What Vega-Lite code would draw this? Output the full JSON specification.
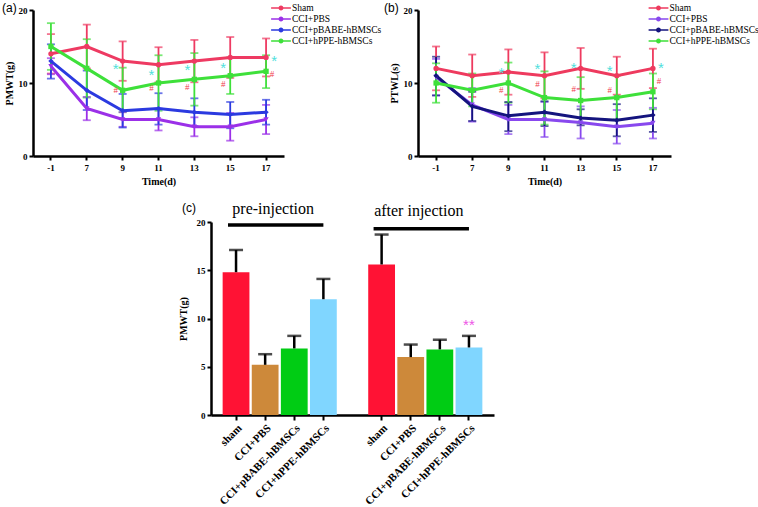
{
  "$schema": "https://vega.github.io/schema/vega-lite/v6.json",
  "padding": {"left": 2, "top": 1, "right": 0, "bottom": 0},
  "background": "white",
  "config": {
    "view": {"stroke": null},
    "axis": {
      "grid": false,
      "domainColor": "black", "domainWidth": 2.5,
      "tickColor": "black", "tickWidth": 2, "tickSize": 4,
      "labelFont": "Liberation Serif", "labelFontWeight": "bold", "labelFontSize": 9, "labelColor": "black",
      "titleFont": "Liberation Serif", "titleFontWeight": "bold", "titleFontSize": 10, "titleColor": "black"
    },
    "legend": {"labelFont": "Liberation Serif", "labelFontSize": 9.5, "labelColor": "black"},
    "title": {"font": "Liberation Sans", "fontSize": 12, "fontWeight": "normal", "color": "black"}
  },
  "datasets": {
    "pmwt": [
      {"time": -1, "group": "Sham", "mean": 14, "lo": 11.3, "hi": 16.7},
      {"time": 7, "group": "Sham", "mean": 15, "lo": 12, "hi": 18},
      {"time": 9, "group": "Sham", "mean": 13, "lo": 10.3, "hi": 15.7},
      {"time": 11, "group": "Sham", "mean": 12.5, "lo": 10.1, "hi": 14.9},
      {"time": 13, "group": "Sham", "mean": 13, "lo": 10.1, "hi": 15.9},
      {"time": 15, "group": "Sham", "mean": 13.5, "lo": 10.7, "hi": 16.3},
      {"time": 17, "group": "Sham", "mean": 13.5, "lo": 10.9, "hi": 16.1},
      {"time": -1, "group": "CCI+PBS", "mean": 12.3, "lo": 11.2, "hi": 13.4},
      {"time": 7, "group": "CCI+PBS", "mean": 6.5, "lo": 4.9, "hi": 8.1},
      {"time": 9, "group": "CCI+PBS", "mean": 5, "lo": 4, "hi": 6},
      {"time": 11, "group": "CCI+PBS", "mean": 5, "lo": 3.5, "hi": 6.5},
      {"time": 13, "group": "CCI+PBS", "mean": 4, "lo": 2.7, "hi": 5.3},
      {"time": 15, "group": "CCI+PBS", "mean": 4, "lo": 2.1, "hi": 5.9},
      {"time": 17, "group": "CCI+PBS", "mean": 5, "lo": 3, "hi": 7},
      {"time": -1, "group": "CCI+pBABE-hBMSCs", "mean": 13, "lo": 10.6, "hi": 15.3},
      {"time": 7, "group": "CCI+pBABE-hBMSCs", "mean": 9, "lo": 6.3, "hi": 11.7},
      {"time": 9, "group": "CCI+pBABE-hBMSCs", "mean": 6.2, "lo": 3.9, "hi": 8.5},
      {"time": 11, "group": "CCI+pBABE-hBMSCs", "mean": 6.5, "lo": 4.3, "hi": 8.6},
      {"time": 13, "group": "CCI+pBABE-hBMSCs", "mean": 6, "lo": 4.1, "hi": 7.9},
      {"time": 15, "group": "CCI+pBABE-hBMSCs", "mean": 5.7, "lo": 3.8, "hi": 7.4},
      {"time": 17, "group": "CCI+pBABE-hBMSCs", "mean": 6, "lo": 4.3, "hi": 7.7},
      {"time": -1, "group": "CCI+hPPE-hBMSCs", "mean": 15, "lo": 11.8, "hi": 18.2},
      {"time": 7, "group": "CCI+hPPE-hBMSCs", "mean": 12, "lo": 8, "hi": 16},
      {"time": 9, "group": "CCI+hPPE-hBMSCs", "mean": 9, "lo": 6, "hi": 12.1},
      {"time": 11, "group": "CCI+hPPE-hBMSCs", "mean": 10, "lo": 6.2, "hi": 13.8},
      {"time": 13, "group": "CCI+hPPE-hBMSCs", "mean": 10.5, "lo": 6.9, "hi": 14.1},
      {"time": 15, "group": "CCI+hPPE-hBMSCs", "mean": 11, "lo": 8.5, "hi": 13.5},
      {"time": 17, "group": "CCI+hPPE-hBMSCs", "mean": 11.6, "lo": 9.3, "hi": 13.8}
    ],
    "ptwl": [
      {"time": -1, "group": "Sham", "mean": 12, "lo": 9, "hi": 15},
      {"time": 7, "group": "Sham", "mean": 11, "lo": 8.1, "hi": 13.9},
      {"time": 9, "group": "Sham", "mean": 11.5, "lo": 8.4, "hi": 14.6},
      {"time": 11, "group": "Sham", "mean": 11, "lo": 7.9, "hi": 14.2},
      {"time": 13, "group": "Sham", "mean": 12, "lo": 9.2, "hi": 14.8},
      {"time": 15, "group": "Sham", "mean": 11, "lo": 8.4, "hi": 13.6},
      {"time": 17, "group": "Sham", "mean": 12, "lo": 9.3, "hi": 14.7},
      {"time": -1, "group": "CCI+PBS", "mean": 10.8, "lo": 8.3, "hi": 13.3},
      {"time": 7, "group": "CCI+PBS", "mean": 7, "lo": 4.7, "hi": 9.3},
      {"time": 9, "group": "CCI+PBS", "mean": 5, "lo": 3, "hi": 7},
      {"time": 11, "group": "CCI+PBS", "mean": 5, "lo": 2.6, "hi": 7.4},
      {"time": 13, "group": "CCI+PBS", "mean": 4.6, "lo": 2.4, "hi": 6.8},
      {"time": 15, "group": "CCI+PBS", "mean": 4, "lo": 1.7, "hi": 6.3},
      {"time": 17, "group": "CCI+PBS", "mean": 4.5, "lo": 2.4, "hi": 6.6},
      {"time": -1, "group": "CCI+pBABE-hBMSCs", "mean": 11, "lo": 8.3, "hi": 13.6},
      {"time": 7, "group": "CCI+pBABE-hBMSCs", "mean": 6.8, "lo": 4.8, "hi": 8.8},
      {"time": 9, "group": "CCI+pBABE-hBMSCs", "mean": 5.5, "lo": 3.4, "hi": 7.4},
      {"time": 11, "group": "CCI+pBABE-hBMSCs", "mean": 6, "lo": 4.1, "hi": 7.5},
      {"time": 13, "group": "CCI+pBABE-hBMSCs", "mean": 5.2, "lo": 4.2, "hi": 6.4},
      {"time": 15, "group": "CCI+pBABE-hBMSCs", "mean": 4.9, "lo": 2.7, "hi": 7.1},
      {"time": 17, "group": "CCI+pBABE-hBMSCs", "mean": 5.6, "lo": 3.3, "hi": 7.9},
      {"time": -1, "group": "CCI+hPPE-hBMSCs", "mean": 10, "lo": 7.3, "hi": 12.7},
      {"time": 7, "group": "CCI+hPPE-hBMSCs", "mean": 9, "lo": 6.8, "hi": 11.3},
      {"time": 9, "group": "CCI+hPPE-hBMSCs", "mean": 10, "lo": 7.3, "hi": 12.8},
      {"time": 11, "group": "CCI+hPPE-hBMSCs", "mean": 8, "lo": 4.3, "hi": 11.6},
      {"time": 13, "group": "CCI+hPPE-hBMSCs", "mean": 7.6, "lo": 4.5, "hi": 10.8},
      {"time": 15, "group": "CCI+hPPE-hBMSCs", "mean": 8, "lo": 5, "hi": 11},
      {"time": 17, "group": "CCI+hPPE-hBMSCs", "mean": 8.8, "lo": 6.4, "hi": 11.3}
    ],
    "annA": [
      {"time": 9, "y": 12.3, "kind": "star", "label": "*"},
      {"time": 11, "y": 11.5, "kind": "star", "label": "*"},
      {"time": 13, "y": 12.2, "kind": "star", "label": "*"},
      {"time": 15, "y": 12.4, "kind": "star", "label": "*"},
      {"time": 17, "y": 13.4, "kind": "star", "label": "*"},
      {"time": 9, "y": 9.0, "kind": "hash", "label": "#"},
      {"time": 11, "y": 9.3, "kind": "hash", "label": "#"},
      {"time": 13, "y": 9.5, "kind": "hash", "label": "#"},
      {"time": 15, "y": 9.8, "kind": "hash", "label": "#"},
      {"time": 17, "y": 11.2, "kind": "hash", "label": "#"}
    ],
    "annB": [
      {"time": 9, "y": 11.8, "kind": "star", "label": "*"},
      {"time": 11, "y": 12.3, "kind": "star", "label": "*"},
      {"time": 13, "y": 12.5, "kind": "star", "label": "*"},
      {"time": 15, "y": 12.0, "kind": "star", "label": "*"},
      {"time": 17, "y": 12.4, "kind": "star", "label": "*"},
      {"time": 9, "y": 9.0, "kind": "hash", "label": "#"},
      {"time": 11, "y": 9.9, "kind": "hash", "label": "#"},
      {"time": 13, "y": 9.2, "kind": "hash", "label": "#"},
      {"time": 15, "y": 9.0, "kind": "hash", "label": "#"},
      {"time": 17, "y": 10.3, "kind": "hash", "label": "#"}
    ],
    "bars": [
      {"key": "sham|pre", "group": "sham", "mean": 14.8, "hi": 17.1},
      {"key": "CCI+PBS|pre", "group": "CCI+PBS", "mean": 5.2, "hi": 6.3},
      {"key": "CCI+pBABE-hBMSCs|pre", "group": "CCI+pBABE-hBMSCs", "mean": 6.9, "hi": 8.2},
      {"key": "CCI+hPPE-hBMSCs|pre", "group": "CCI+hPPE-hBMSCs", "mean": 12, "hi": 14.1},
      {"key": "sham|after", "group": "sham", "mean": 15.6, "hi": 18.7},
      {"key": "CCI+PBS|after", "group": "CCI+PBS", "mean": 6, "hi": 7.3},
      {"key": "CCI+pBABE-hBMSCs|after", "group": "CCI+pBABE-hBMSCs", "mean": 6.8, "hi": 7.8},
      {"key": "CCI+hPPE-hBMSCs|after", "group": "CCI+hPPE-hBMSCs", "mean": 7, "hi": 8.2}
    ],
    "brackets": [
      {"x1": "sham|pre", "x2": "CCI+hPPE-hBMSCs|pre", "y": 19.7},
      {"x1": "sham|after", "x2": "CCI+hPPE-hBMSCs|after", "y": 19.3}
    ],
    "phaseLabels": [
      {"x": "CCI+PBS|pre", "y": 21.3, "label": "pre-injection"},
      {"x": "CCI+PBS|after", "y": 21.1, "label": "after injection"}
    ],
    "sig": [
      {"x": "CCI+hPPE-hBMSCs|after", "y": 9.6, "label": "**"}
    ]
  },
  "vconcat": [
    {
      "hconcat": [
        {
          "width": 251, "height": 146,
          "title": {"text": "(a)", "anchor": "start", "frame": "group", "dx": -31, "offset": -12},
          "data": {"name": "pmwt"},
          "encoding": {
            "x": {"field": "time", "type": "ordinal", "axis": {"title": "Time(d)", "labelAngle": 0, "labelPadding": 3, "titlePadding": 4}},
            "color": {"field": "group", "type": "nominal",
              "scale": {"domain": ["Sham", "CCI+PBS", "CCI+pBABE-hBMSCs", "CCI+hPPE-hBMSCs"], "range": ["#ee3a62", "#9b30e8", "#2b3ae0", "#3ee03a"]},
              "legend": {"title": null, "orient": "none", "legendX": 242.5, "legendY": -7.5, "symbolSize": 121, "rowPadding": 1, "labelOffset": 5.5,
                "symbolType": "M-1.8,-0.14L1.8,-0.14L1.8,0.14L-1.8,0.14ZM0.45,0A0.45,0.45 0 1,1 -0.45,0A0.45,0.45 0 1,1 0.45,0Z",
                "symbolStrokeWidth": 0, "symbolOpacity": 1}}
          },
          "layer": [
            {
              "mark": {"type": "errorbar", "thickness": 1.8, "ticks": {"size": 8, "thickness": 1.8}},
              "encoding": {
                "y": {"field": "lo", "type": "quantitative", "scale": {"domain": [0, 20]}, "axis": {"title": "PMWT(g)", "values": [0, 5, 10, 15, 20], "titlePadding": 4}},
                "y2": {"field": "hi"}
              }
            },
            {
              "mark": {"type": "line", "strokeWidth": 3},
              "encoding": {"y": {"field": "mean", "type": "quantitative"}}
            },
            {
              "transform": [{"filter": "datum.group == 'Sham'"}],
              "mark": {"type": "point", "filled": true, "size": 28, "opacity": 1, "shape": "circle"},
              "encoding": {"y": {"field": "mean", "type": "quantitative"}}
            },
            {
              "transform": [{"filter": "datum.group == 'CCI+PBS'"}],
              "mark": {"type": "point", "filled": true, "size": 28, "opacity": 1, "shape": "triangle-down"},
              "encoding": {"y": {"field": "mean", "type": "quantitative"}}
            },
            {
              "transform": [{"filter": "datum.group == 'CCI+pBABE-hBMSCs'"}],
              "mark": {"type": "point", "filled": true, "size": 28, "opacity": 1, "shape": "diamond"},
              "encoding": {"y": {"field": "mean", "type": "quantitative"}}
            },
            {
              "transform": [{"filter": "datum.group == 'CCI+hPPE-hBMSCs'"}],
              "mark": {"type": "point", "filled": true, "size": 28, "opacity": 1, "shape": "square"},
              "encoding": {"y": {"field": "mean", "type": "quantitative"}}
            },
            {
              "data": {"name": "annA"},
              "transform": [{"filter": "datum.kind == 'star' && datum.time != 17"}],
              "mark": {"type": "text", "fontSize": 15, "font": "Liberation Sans", "dx": -7, "dy": 3},
              "encoding": {"x": {"field": "time", "type": "ordinal"}, "y": {"field": "y", "type": "quantitative"}, "text": {"field": "label"}, "color": {"value": "#4fe0dc"}}
            },
            {
              "data": {"name": "annA"},
              "transform": [{"filter": "datum.kind == 'star' && datum.time == 17"}],
              "mark": {"type": "text", "fontSize": 15, "font": "Liberation Sans", "dx": 8, "dy": 3},
              "encoding": {"x": {"field": "time", "type": "ordinal"}, "y": {"field": "y", "type": "quantitative"}, "text": {"field": "label"}, "color": {"value": "#4fe0dc"}}
            },
            {
              "data": {"name": "annA"},
              "transform": [{"filter": "datum.kind == 'hash' && datum.time != 17"}],
              "mark": {"type": "text", "fontSize": 9, "font": "Liberation Serif", "dx": -7},
              "encoding": {"x": {"field": "time", "type": "ordinal"}, "y": {"field": "y", "type": "quantitative"}, "text": {"field": "label"}, "color": {"value": "#f03a4a"}}
            },
            {
              "data": {"name": "annA"},
              "transform": [{"filter": "datum.kind == 'hash' && datum.time == 17"}],
              "mark": {"type": "text", "fontSize": 9, "font": "Liberation Serif", "dx": 6},
              "encoding": {"x": {"field": "time", "type": "ordinal"}, "y": {"field": "y", "type": "quantitative"}, "text": {"field": "label"}, "color": {"value": "#f03a4a"}}
            }
          ]
        },
        {
          "width": 253, "height": 146,
          "title": {"text": "(b)", "anchor": "start", "frame": "group", "dx": -34, "offset": -12},
          "data": {"name": "ptwl"},
          "encoding": {
            "x": {"field": "time", "type": "ordinal", "axis": {"title": "Time(d)", "labelAngle": 0, "labelPadding": 3, "titlePadding": 4}},
            "color": {"field": "group", "type": "nominal",
              "scale": {"domain": ["Sham", "CCI+PBS", "CCI+pBABE-hBMSCs", "CCI+hPPE-hBMSCs"], "range": ["#ee3a5e", "#8848ee", "#14147e", "#3ee03a"]},
              "legend": {"title": null, "orient": "none", "legendX": 235, "legendY": -7.5, "symbolSize": 121, "rowPadding": 1, "labelOffset": 5.5,
                "symbolType": "M-1.8,-0.14L1.8,-0.14L1.8,0.14L-1.8,0.14ZM0.45,0A0.45,0.45 0 1,1 -0.45,0A0.45,0.45 0 1,1 0.45,0Z",
                "symbolStrokeWidth": 0, "symbolOpacity": 1}}
          },
          "layer": [
            {
              "mark": {"type": "errorbar", "thickness": 1.8, "ticks": {"size": 8, "thickness": 1.8}},
              "encoding": {
                "y": {"field": "lo", "type": "quantitative", "scale": {"domain": [0, 20]}, "axis": {"title": "PTWL(s)", "values": [0, 5, 10, 15, 20], "titlePadding": 4}},
                "y2": {"field": "hi"}
              }
            },
            {
              "mark": {"type": "line", "strokeWidth": 3},
              "encoding": {"y": {"field": "mean", "type": "quantitative"}}
            },
            {
              "transform": [{"filter": "datum.group == 'Sham'"}],
              "mark": {"type": "point", "filled": true, "size": 28, "opacity": 1, "shape": "circle"},
              "encoding": {"y": {"field": "mean", "type": "quantitative"}}
            },
            {
              "transform": [{"filter": "datum.group == 'CCI+PBS'"}],
              "mark": {"type": "point", "filled": true, "size": 28, "opacity": 1, "shape": "triangle-down"},
              "encoding": {"y": {"field": "mean", "type": "quantitative"}}
            },
            {
              "transform": [{"filter": "datum.group == 'CCI+pBABE-hBMSCs'"}],
              "mark": {"type": "point", "filled": true, "size": 28, "opacity": 1, "shape": "diamond"},
              "encoding": {"y": {"field": "mean", "type": "quantitative"}}
            },
            {
              "transform": [{"filter": "datum.group == 'CCI+hPPE-hBMSCs'"}],
              "mark": {"type": "point", "filled": true, "size": 28, "opacity": 1, "shape": "square"},
              "encoding": {"y": {"field": "mean", "type": "quantitative"}}
            },
            {
              "data": {"name": "annB"},
              "transform": [{"filter": "datum.kind == 'star' && datum.time != 17"}],
              "mark": {"type": "text", "fontSize": 15, "font": "Liberation Sans", "dx": -7, "dy": 3},
              "encoding": {"x": {"field": "time", "type": "ordinal"}, "y": {"field": "y", "type": "quantitative"}, "text": {"field": "label"}, "color": {"value": "#4fe0dc"}}
            },
            {
              "data": {"name": "annB"},
              "transform": [{"filter": "datum.kind == 'star' && datum.time == 17"}],
              "mark": {"type": "text", "fontSize": 15, "font": "Liberation Sans", "dx": 8, "dy": 3},
              "encoding": {"x": {"field": "time", "type": "ordinal"}, "y": {"field": "y", "type": "quantitative"}, "text": {"field": "label"}, "color": {"value": "#4fe0dc"}}
            },
            {
              "data": {"name": "annB"},
              "transform": [{"filter": "datum.kind == 'hash' && datum.time != 17"}],
              "mark": {"type": "text", "fontSize": 9, "font": "Liberation Serif", "dx": -7},
              "encoding": {"x": {"field": "time", "type": "ordinal"}, "y": {"field": "y", "type": "quantitative"}, "text": {"field": "label"}, "color": {"value": "#f03a4a"}}
            },
            {
              "data": {"name": "annB"},
              "transform": [{"filter": "datum.kind == 'hash' && datum.time == 17"}],
              "mark": {"type": "text", "fontSize": 9, "font": "Liberation Serif", "dx": 6},
              "encoding": {"x": {"field": "time", "type": "ordinal"}, "y": {"field": "y", "type": "quantitative"}, "text": {"field": "label"}, "color": {"value": "#f03a4a"}}
            }
          ]
        }
      ],
      "spacing": 134,
      "bounds": "flush",
      "resolve": {"scale": {"color": "independent", "x": "independent", "y": "independent"}, "legend": {"color": "independent"}}
    },
    {
      "hconcat": [
        {
          "width": 168, "height": 193,
          "data": {"values": [{"a": 1}]},
          "mark": {"type": "point", "opacity": 0},
          "encoding": {}
        },
        {
          "width": 283, "height": 193,
          "title": {"text": "(c)", "anchor": "start", "frame": "group", "dx": -29, "offset": -14},
          "encoding": {
            "x": {"field": "key", "type": "nominal",
              "scale": {"domain": ["sham|pre", "CCI+PBS|pre", "CCI+pBABE-hBMSCs|pre", "CCI+hPPE-hBMSCs|pre", "gap", "sham|after", "CCI+PBS|after", "CCI+pBABE-hBMSCs|after", "CCI+hPPE-hBMSCs|after"], "paddingInner": 0.08, "paddingOuter": 0.4},
              "axis": {"title": null, "labelAngle": -45, "labelFontSize": 11, "tickSize": 5, "labelPadding": 2,
                "labelExpr": "datum.value == 'gap' ? '' : split(datum.value, '|')[0]",
                "tickOpacity": {"condition": {"test": "datum.value == 'gap'", "value": 0}, "value": 1}}}
          },
          "layer": [
            {
              "data": {"name": "bars"},
              "mark": {"type": "bar"},
              "encoding": {
                "y": {"field": "mean", "type": "quantitative", "scale": {"domain": [0, 20]}, "axis": {"title": "PMWT(g)", "values": [0, 5, 10, 15, 20], "titlePadding": 8}},
                "color": {"field": "group", "type": "nominal", "scale": {"domain": ["sham", "CCI+PBS", "CCI+pBABE-hBMSCs", "CCI+hPPE-hBMSCs"], "range": ["#ff1234", "#cd893a", "#00cc14", "#80d6ff"]}, "legend": null}
              }
            },
            {
              "data": {"name": "bars"},
              "mark": {"type": "rule", "color": "black", "strokeWidth": 2.5},
              "encoding": {"y": {"field": "mean", "type": "quantitative"}, "y2": {"field": "hi"}}
            },
            {
              "data": {"name": "bars"},
              "mark": {"type": "tick", "color": "black", "size": 14, "thickness": 2.5},
              "encoding": {"y": {"field": "hi", "type": "quantitative"}}
            },
            {
              "data": {"name": "brackets"},
              "mark": {"type": "rule", "color": "black", "strokeWidth": 3.5},
              "encoding": {
                "x": {"field": "x1", "type": "nominal", "bandPosition": 0.2},
                "x2": {"field": "x2", "bandPosition": 0.5},
                "y": {"field": "y", "type": "quantitative"}
              }
            },
            {
              "data": {"name": "phaseLabels"},
              "mark": {"type": "text", "font": "Liberation Serif", "fontSize": 16, "color": "black", "baseline": "middle"},
              "encoding": {
                "x": {"field": "x", "type": "nominal", "bandPosition": 0.8},
                "y": {"field": "y", "type": "quantitative"},
                "text": {"field": "label"}
              }
            },
            {
              "data": {"name": "sig"},
              "mark": {"type": "text", "font": "Liberation Sans", "fontSize": 15, "color": "#ee55e6", "dy": 3},
              "encoding": {
                "x": {"field": "x", "type": "nominal"},
                "y": {"field": "y", "type": "quantitative"},
                "text": {"field": "label"}
              }
            }
          ]
        }
      ],
      "spacing": 10,
      "bounds": "flush",
      "resolve": {"scale": {"color": "independent", "x": "independent", "y": "independent"}}
    }
  ],
  "spacing": 15,
  "bounds": "full",
  "resolve": {"scale": {"color": "independent", "x": "independent", "y": "independent"}, "legend": {"color": "independent"}}
}
